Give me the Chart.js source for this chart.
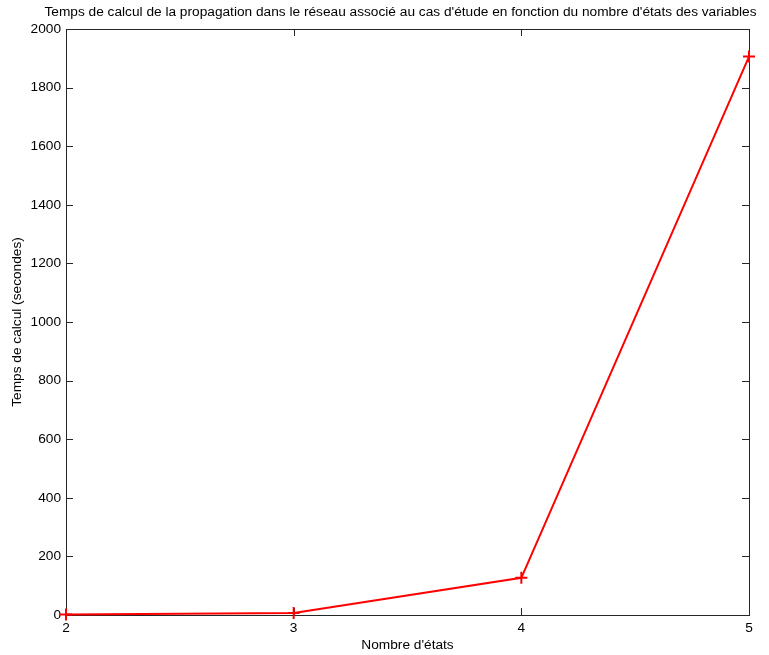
<!DOCTYPE html>
<html>
<head>
<meta charset="utf-8">
<script src="https://cdn.jsdelivr.net/npm/chart.js@4.4.1/dist/chart.umd.min.js"></script>
<style>
    html, body { margin: 0; padding: 0; background: #fff; }
    canvas { display: block; }
</style>
</head>
<body>
<canvas id="chart" width="769" height="655"></canvas>
<script>
// valeurs
const nbEtats = [2, 3, 4, 5];
const tempsCalcul = [1.5, 7, 127, 1906];
const xTicks = [2, 3, 4, 5];
const yTicks = [0, 200, 400, 600, 800, 1000, 1200, 1400, 1600, 1800, 2000];
const titre = "Temps de calcul de la propagation dans le réseau associé au cas d'étude en fonction du nombre d'états des variables";

const axisColor = '#262626';
const font = { family: 'Liberation Sans, Arial, sans-serif', size: 13.7 };

// boite + graduations interieures (style matlab), titre centre sur les axes
const boxPlugin = {
    id: 'box',
    beforeDatasetsDraw(chart) {
        const { ctx, chartArea: a, scales } = chart;
        const len = 7;
        ctx.save();
        ctx.strokeStyle = axisColor;
        ctx.lineWidth = 1;
        ctx.strokeRect(Math.round(a.left) + 0.5, Math.round(a.top) + 0.5,
            Math.round(a.right - a.left), Math.round(a.bottom - a.top));
        ctx.beginPath();
        for (const v of xTicks) {
            const px = Math.round(scales.x.getPixelForValue(v)) + 0.5;
            ctx.moveTo(px, a.bottom); ctx.lineTo(px, a.bottom - len);
            ctx.moveTo(px, a.top); ctx.lineTo(px, a.top + len);
        }
        for (const v of yTicks) {
            const py = Math.round(scales.y.getPixelForValue(v)) + 0.5;
            ctx.moveTo(a.left, py); ctx.lineTo(a.left + len, py);
            ctx.moveTo(a.right, py); ctx.lineTo(a.right - len, py);
        }
        ctx.stroke();

        ctx.fillStyle = '#000';
        ctx.font = `${font.size}px ${font.family}`;
        ctx.textAlign = 'center';
        ctx.textBaseline = 'middle';
        ctx.fillText(titre, (a.left + a.right) / 2 - 7, 12);
        ctx.restore();
    }
};

new Chart(document.getElementById('chart'), {
    type: 'line',
    data: {
        datasets: [{
            data: nbEtats.map((x, i) => ({ x, y: tempsCalcul[i] })),
            borderColor: '#ff0000',
            backgroundColor: '#ff0000',
            borderWidth: 2,
            pointStyle: 'cross',
            pointRadius: 6,
            pointBorderWidth: 2,
            tension: 0,
            clip: false
        }]
    },
    options: {
        responsive: false,
        animation: false,
        layout: { padding: { left: 0, right: 20, top: 29, bottom: 0 } },
        plugins: {
            legend: { display: false },
            tooltip: { enabled: false },
            title: { display: false }
        },
        scales: {
            x: {
                type: 'linear',
                min: 2, max: 5,
                grid: { display: false, drawTicks: false },
                border: { display: false },
                ticks: { stepSize: 1, color: '#000', font, padding: 5, callback: v => String(v) },
                title: { display: true, text: "Nombre d'états", color: '#000', font, padding: { top: 0, bottom: 1.2 } },
                afterFit(scale) { scale.height = 40; }
            },
            y: {
                type: 'linear',
                min: 0, max: 2000,
                grid: { display: false, drawTicks: false },
                border: { display: false },
                ticks: { stepSize: 200, color: '#000', font, padding: 5, callback: v => String(v) },
                title: { display: true, text: 'Temps de calcul (secondes)', color: '#000', font, padding: { top: 8.8, bottom: 0 } },
                afterFit(scale) { scale.width = 66; }
            }
        }
    },
    plugins: [boxPlugin]
});
</script>
</body>
</html>
